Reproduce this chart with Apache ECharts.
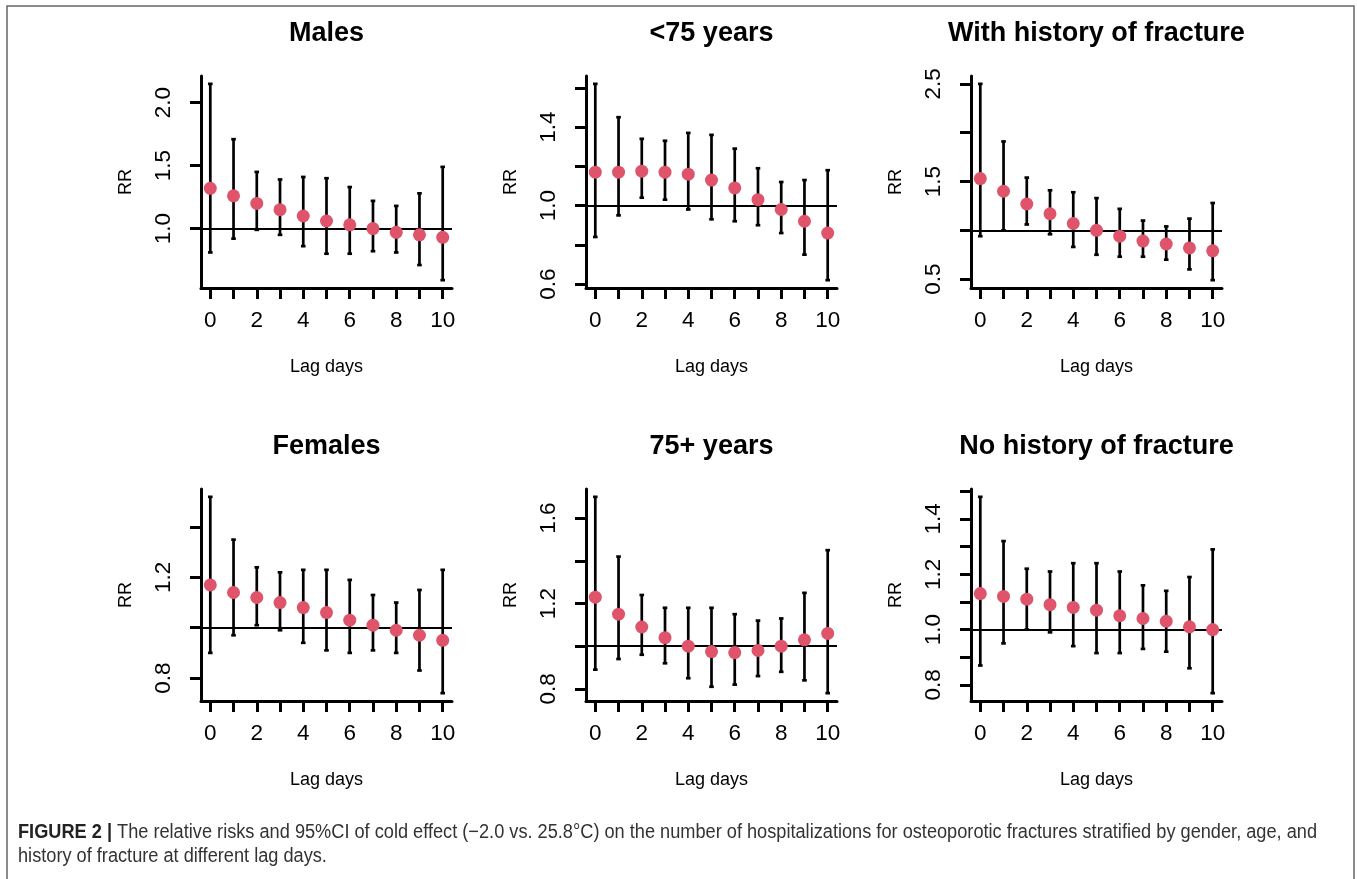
<!DOCTYPE html>
<html>
<head>
<meta charset="utf-8">
<script src="https://cdn.jsdelivr.net/npm/echarts@6/dist/echarts.min.js"></script>
<style>
html,body{margin:0;padding:0;background:#fff;}
#chart{width:1357px;height:879px;}
</style>
</head>
<body>
<div id="chart"></div>
<script>
// ---------------- data ----------------
const lags = [0, 1, 2, 3, 4, 5, 6, 7, 8, 9, 10];

const panelTitles = ["Males", "<75 years", "With history of fracture", "Females", "75+ years", "No history of fracture"];

const malesRR = [1.32, 1.26, 1.20, 1.15, 1.10, 1.06, 1.03, 1.00, 0.97, 0.95, 0.93];
const malesLo = [0.81, 0.92, 0.99, 0.95, 0.86, 0.80, 0.80, 0.82, 0.81, 0.71, 0.59];
const malesHi = [2.15, 1.71, 1.45, 1.39, 1.41, 1.40, 1.33, 1.22, 1.18, 1.28, 1.49];

const under75RR = [1.17, 1.17, 1.175, 1.17, 1.16, 1.13, 1.09, 1.03, 0.98, 0.92, 0.86];
const under75Lo = [0.84, 0.95, 1.04, 1.03, 0.98, 0.93, 0.92, 0.90, 0.86, 0.75, 0.62];
const under75Hi = [1.62, 1.45, 1.34, 1.33, 1.37, 1.36, 1.29, 1.19, 1.12, 1.13, 1.18];

const histRR = [1.53, 1.40, 1.27, 1.17, 1.07, 1.00, 0.94, 0.89, 0.86, 0.82, 0.79];
const histLo = [0.94, 1.00, 1.06, 0.96, 0.83, 0.75, 0.73, 0.73, 0.70, 0.60, 0.49];
const histHi = [2.50, 1.91, 1.54, 1.41, 1.39, 1.33, 1.22, 1.10, 1.04, 1.12, 1.28];

const femalesRR = [1.17, 1.14, 1.12, 1.10, 1.08, 1.06, 1.03, 1.01, 0.99, 0.97, 0.95];
const femalesLo = [0.90, 0.97, 1.01, 0.99, 0.94, 0.91, 0.90, 0.91, 0.90, 0.83, 0.74];
const femalesHi = [1.52, 1.35, 1.24, 1.22, 1.23, 1.23, 1.19, 1.13, 1.10, 1.15, 1.23];

const over75RR = [1.23, 1.15, 1.09, 1.04, 1.00, 0.975, 0.97, 0.98, 1.00, 1.03, 1.06];
const over75Lo = [0.89, 0.94, 0.96, 0.92, 0.85, 0.81, 0.82, 0.86, 0.88, 0.84, 0.78];
const over75Hi = [1.70, 1.42, 1.24, 1.18, 1.18, 1.18, 1.15, 1.12, 1.13, 1.25, 1.45];

const noHistRR = [1.13, 1.12, 1.11, 1.09, 1.08, 1.07, 1.05, 1.04, 1.03, 1.01, 1.00];
const noHistLo = [0.87, 0.95, 1.00, 0.99, 0.94, 0.915, 0.915, 0.93, 0.92, 0.86, 0.77];
const noHistHi = [1.48, 1.32, 1.22, 1.21, 1.24, 1.24, 1.21, 1.16, 1.14, 1.19, 1.29];

// tick marks and tick labels of each panel's RR axis
const yTicks = [
  [1.0, 1.5, 2.0],
  [0.6, 0.8, 1.0, 1.2, 1.4, 1.6],
  [0.5, 1.0, 1.5, 2.0, 2.5],
  [0.8, 1.0, 1.2, 1.4],
  [0.8, 1.0, 1.2, 1.4, 1.6],
  [0.8, 0.9, 1.0, 1.1, 1.2, 1.3, 1.4, 1.5]
];
const yTickLabels = [
  [1.0, 1.5, 2.0],
  [0.6, 1.0, 1.4],
  [0.5, 1.5, 2.5],
  [0.8, 1.2],
  [0.8, 1.2, 1.6],
  [0.8, 1.0, 1.2, 1.4]
];
const xTicks = [0, 1, 2, 3, 4, 5, 6, 7, 8, 9, 10];
const xTickLabels = [0, 2, 4, 6, 8, 10];
const refValue = 1;

const captionBold = "FIGURE 2 |";
const captionLine1 = " The relative risks and 95%CI of cold effect (\u22122.0 vs. 25.8\u00B0C) on the number of hospitalizations for osteoporotic fractures stratified by gender, age, and";
const captionLine2 = "history of fracture at different lag days.";

// ---------------- layout ----------------
const panels = [
  {rr: malesRR, lo: malesLo, hi: malesHi},
  {rr: under75RR, lo: under75Lo, hi: under75Hi},
  {rr: histRR, lo: histLo, hi: histHi},
  {rr: femalesRR, lo: femalesLo, hi: femalesHi},
  {rr: over75RR, lo: over75Lo, hi: over75Hi},
  {rr: noHistRR, lo: noHistLo, hi: noHistHi}
];
const colLeft = [201, 586, 971];
const rowTop = [76, 489];
const gridW = 251, gridH = 212;

const FONT = '"Liberation Sans", Arial, Helvetica, sans-serif';
const RED = '#DF536B';

function ext(arrLo, arrHi) {
  const mn = Math.min(...arrLo), mx = Math.max(...arrHi);
  const r = mx - mn;
  return [mn - 0.04 * r, mx + 0.04 * r];
}

const grids = [], xAxes = [], yAxes = [], series = [], titles = [];
const xr = ext(lags, lags);

panels.forEach((p, i) => {
  const c = i % 3, r = Math.floor(i / 3);
  grids.push({left: colLeft[c], top: rowTop[r], width: gridW, height: gridH, containLabel: false});
  const yr = ext(p.lo, p.hi);
  xAxes.push({
    gridIndex: i, type: 'value', min: xr[0], max: xr[1],
    name: 'Lag days', nameLocation: 'middle', nameGap: 70,
    nameTextStyle: {fontFamily: FONT, fontSize: 18, color: '#000'},
    axisLine: {show: true, onZero: false, lineStyle: {color: '#000', width: 3}},
    axisTick: {show: true, length: 11, lineStyle: {color: '#000', width: 3}, customValues: xTicks},
    axisLabel: {show: true, margin: 21, fontFamily: FONT, fontSize: 22.5, color: '#000', customValues: xTickLabels},
    splitLine: {show: false}
  });
  yAxes.push({
    gridIndex: i, type: 'value', min: yr[0], max: yr[1],
    name: 'RR', nameLocation: 'middle', nameGap: 66, nameRotate: 90,
    nameTextStyle: {fontFamily: FONT, fontSize: 18, color: '#000'},
    axisLine: {show: true, onZero: false, lineStyle: {color: '#000', width: 3}},
    axisTick: {show: true, length: 11, lineStyle: {color: '#000', width: 3}, customValues: yTicks[i]},
    axisLabel: {show: true, margin: 26, rotate: 90, fontFamily: FONT, fontSize: 22.5, color: '#000',
      customValues: yTickLabels[i], formatter: v => Number(v).toFixed(1)},
    splitLine: {show: false}
  });
  const barData = lags.map((l, k) => [l, p.lo[k], p.hi[k]]);
  series.push({
    type: 'custom', xAxisIndex: i, yAxisIndex: i, z: 2,
    encode: {x: 0, y: [1, 2]},
    data: barData,
    renderItem: function (params, api) {
      const x = api.value(0), lo = api.value(1), hi = api.value(2);
      const a = api.coord([x, lo]), b = api.coord([x, hi]);
      const cw = 2.3, st = {stroke: '#000', lineWidth: 2.7};
      return {type: 'group', children: [
        {type: 'line', shape: {x1: a[0], y1: a[1], x2: b[0], y2: b[1]}, style: st},
        {type: 'line', shape: {x1: a[0] - cw, y1: a[1], x2: a[0] + cw, y2: a[1]}, style: st},
        {type: 'line', shape: {x1: b[0] - cw, y1: b[1], x2: b[0] + cw, y2: b[1]}, style: st}
      ]};
    },
    markLine: {
      silent: true, symbol: ['none', 'none'],
      label: {show: false},
      lineStyle: {color: '#000', width: 2.2, type: 'solid'},
      data: [{yAxis: refValue}]
    }
  });
  series.push({
    type: 'scatter', xAxisIndex: i, yAxisIndex: i, z: 5,
    symbol: 'circle', symbolSize: 13,
    itemStyle: {color: RED, opacity: 1},
    data: lags.map((l, k) => [l, p.rr[k]])
  });
  titles.push({
    text: panelTitles[i], left: colLeft[c] + gridW / 2, top: (r === 0 ? 20 : 433),
    textAlign: 'center', padding: 0,
    textStyle: {fontFamily: FONT, fontSize: 27, fontWeight: 'bold', color: '#000'}
  });
});

// caption sizing (condensed look)
const CAP_FS = 20;
const cv = document.createElement('canvas').getContext('2d');
cv.font = 'bold ' + CAP_FS + 'px "Liberation Sans"';
const wb = cv.measureText(captionBold).width;
cv.font = CAP_FS + 'px "Liberation Sans"';
const wt = cv.measureText(captionLine1).width;
const capScale = 1299 / (wb + wt);

const chart = echarts.init(document.getElementById('chart'), null, {renderer: 'canvas'});
chart.setOption({
  animation: false,
  backgroundColor: '#fff',
  title: titles,
  grid: grids,
  xAxis: xAxes,
  yAxis: yAxes,
  series: series,
  graphic: [
    {type: 'rect', shape: {x: 7, y: 6, width: 1347, height: 900},
      style: {fill: 'none', stroke: '#666', lineWidth: 1.5}, silent: true},
    {type: 'text', x: 18, y: 822, scaleX: capScale, scaleY: 1,
      style: {text: '{b|' + captionBold + '}' + captionLine1,
        fontFamily: FONT, fontSize: CAP_FS, fill: '#333', verticalAlign: 'top',
        rich: {b: {fontFamily: FONT, fontSize: CAP_FS, fontWeight: 'bold', fill: '#222'}}}},
    {type: 'text', x: 18, y: 846, scaleX: capScale, scaleY: 1,
      style: {text: captionLine2, fontFamily: FONT, fontSize: CAP_FS, fill: '#333', verticalAlign: 'top'}}
  ]
});
</script>
</body>
</html>
